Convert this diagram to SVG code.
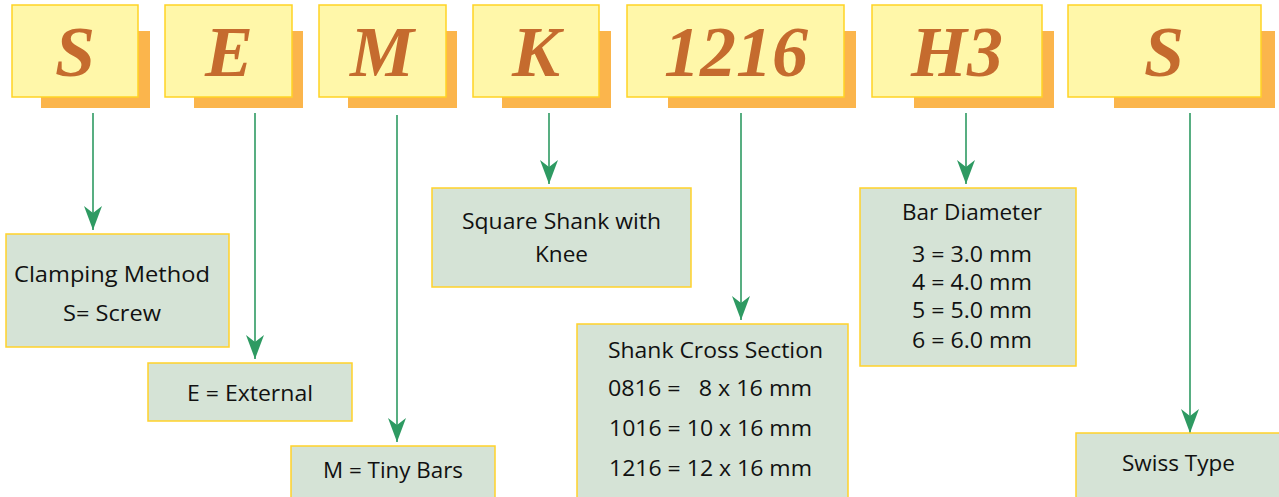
<svg xmlns="http://www.w3.org/2000/svg" width="1279" height="497" viewBox="0 0 1279 497">
<style>
.shadow{fill:#FBB54C}
.code{fill:#FFF7A9;stroke:#FFD324;stroke-width:1.5}
.letter{font-family:"Liberation Serif","Times New Roman",serif;font-style:italic;font-weight:bold;font-size:72px;fill:#C56B2E;text-anchor:middle}
.box{fill:#D5E3D6;stroke:#FFD22A;stroke-width:1.5}
.lbl{font-family:"Open Sans","Noto Sans",sans-serif;font-size:22px;fill:#111}
.c{text-anchor:middle}
.conn line{stroke:#2E9A62;stroke-width:1.6}
</style>
<defs>
<marker id="ah" markerUnits="userSpaceOnUse" markerWidth="26" markerHeight="20" refX="24" refY="9" orient="auto" viewBox="0 0 26 18">
<path d="M24 9 L0 0 L7 9 L0 18 Z" fill="#2E9A62"/>
</marker>
</defs>
<rect width="1279" height="497" fill="#fff"/>

<g id="code-S">
<rect class="shadow" x="41" y="31" width="109" height="77"/>
<rect class="code" x="12" y="5" width="126" height="92"/>
<text class="letter" x="75" y="76">S</text>
</g>
<g id="code-E">
<rect class="shadow" x="194" y="31" width="109" height="77"/>
<rect class="code" x="165" y="5" width="127" height="92"/>
<text class="letter" x="229" y="76">E</text>
</g>
<g id="code-M">
<rect class="shadow" x="348" y="31" width="109" height="77"/>
<rect class="code" x="319" y="5" width="127" height="92"/>
<text class="letter" x="382" y="76">M</text>
</g>
<g id="code-K">
<rect class="shadow" x="502" y="31" width="109" height="77"/>
<rect class="code" x="473" y="5" width="126" height="92"/>
<text class="letter" x="536" y="76">K</text>
</g>
<g id="code-1216">
<rect class="shadow" x="668" y="31" width="188" height="77"/>
<rect class="code" x="627" y="5" width="217" height="92"/>
<text class="letter" x="736" y="76">1216</text>
</g>
<g id="code-H3">
<rect class="shadow" x="914" y="31" width="140" height="77"/>
<rect class="code" x="872" y="5" width="170" height="92"/>
<text class="letter" x="957" y="76">H3</text>
</g>
<g id="code-S2">
<rect class="shadow" x="1114" y="31" width="161" height="77"/>
<rect class="code" x="1068" y="5" width="193" height="92"/>
<text class="letter" x="1164" y="76">S</text>
</g>

<g id="connectors" class="conn">
<line x1="93" y1="113" x2="93" y2="230" marker-end="url(#ah)"/>
<line x1="255" y1="113" x2="255" y2="359" marker-end="url(#ah)"/>
<line x1="397" y1="115" x2="397" y2="442" marker-end="url(#ah)"/>
<line x1="549" y1="113" x2="549" y2="184" marker-end="url(#ah)"/>
<line x1="741" y1="113" x2="741" y2="320" marker-end="url(#ah)"/>
<line x1="966" y1="113" x2="966" y2="184" marker-end="url(#ah)"/>
<line x1="1190" y1="113" x2="1190" y2="433" marker-end="url(#ah)"/>
</g>

<g id="clamping">
<rect class="box" x="6" y="234" width="223" height="113"/>
<text class="lbl" x="14" y="282" textLength="196" lengthAdjust="spacingAndGlyphs">Clamping Method</text>
<text class="lbl" x="63" y="321" textLength="98" lengthAdjust="spacingAndGlyphs">S= Screw</text>
</g>
<g id="external">
<rect class="box" x="148" y="363" width="204" height="58"/>
<text class="lbl" x="187" y="401" textLength="126" lengthAdjust="spacingAndGlyphs">E = External</text>
</g>
<g id="tiny">
<rect class="box" x="291" y="446" width="204" height="60"/>
<text class="lbl" x="323" y="478" textLength="140" lengthAdjust="spacingAndGlyphs">M = Tiny Bars</text>
</g>
<g id="square">
<rect class="box" x="432" y="188" width="259" height="99"/>
<text class="lbl" x="462" y="229" textLength="199" lengthAdjust="spacingAndGlyphs">Square Shank with</text>
<text class="lbl" x="535" y="262" textLength="53" lengthAdjust="spacingAndGlyphs">Knee</text>
</g>
<g id="cross">
<rect class="box" x="577" y="324" width="271" height="190"/>
<text class="lbl" x="608" y="358" textLength="215" lengthAdjust="spacingAndGlyphs">Shank Cross Section</text>
<text class="lbl" x="608" y="396" xml:space="preserve" textLength="204" lengthAdjust="spacingAndGlyphs">0816 =   8 x 16 mm</text>
<text class="lbl" x="609" y="436" textLength="203" lengthAdjust="spacingAndGlyphs">1016 = 10 x 16 mm</text>
<text class="lbl" x="609" y="476" textLength="203" lengthAdjust="spacingAndGlyphs">1216 = 12 x 16 mm</text>
</g>
<g id="bar">
<rect class="box" x="860" y="188" width="216" height="178"/>
<text class="lbl" x="902" y="220" textLength="140" lengthAdjust="spacingAndGlyphs">Bar Diameter</text>
<text class="lbl" x="912" y="262" textLength="120" lengthAdjust="spacingAndGlyphs">3 = 3.0 mm</text>
<text class="lbl" x="912" y="290" textLength="120" lengthAdjust="spacingAndGlyphs">4 = 4.0 mm</text>
<text class="lbl" x="912" y="318" textLength="120" lengthAdjust="spacingAndGlyphs">5 = 5.0 mm</text>
<text class="lbl" x="912" y="348" textLength="120" lengthAdjust="spacingAndGlyphs">6 = 6.0 mm</text>
</g>
<g id="swiss">
<rect class="box" x="1076" y="433" width="215" height="80"/>
<text class="lbl" x="1122" y="471" textLength="113" lengthAdjust="spacingAndGlyphs">Swiss Type</text>
</g>
</svg>
